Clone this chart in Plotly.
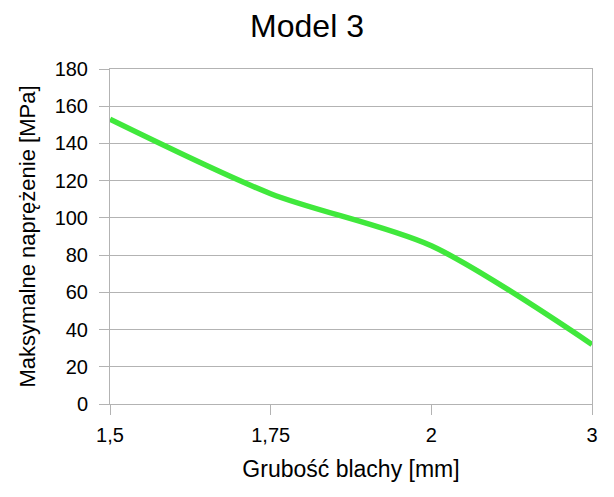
import plotly.graph_objects as go

categories = ["1,5", "1,75", "2", "3"]
stress = [153, 113, 85, 32]
y_ticks = [0, 20, 40, 60, 80, 100, 120, 140, 160, 180]

font_family = "Liberation Sans, Arial, sans-serif"
grid = "#b3b3b3"

# The page body has an 8px default margin, so the figure is sized to fill the rest.
W, H = 606, 489

fig = go.Figure()
fig.add_trace(go.Scatter(
    x=categories, y=stress, mode="lines",
    line=dict(color="#40e83c", width=5.5, shape="spline", smoothing=0.8),
    showlegend=False, hoverinfo="skip",
))

fig.update_layout(
    width=W, height=H,
    margin=dict(l=102, r=22, t=61, b=93),
    paper_bgcolor="white", plot_bgcolor="white",
    font=dict(family=font_family, color="black", size=20),
    title=dict(text="Model 3", x=(307 - 8) / W, xanchor="center", y=1 - 18 / H, yanchor="middle",
               font=dict(size=32, family=font_family, color="black")),
    xaxis=dict(
        type="category", range=[0, 3], showgrid=False,
        showline=True, linecolor=grid, linewidth=1, mirror=True,
        ticks="outside", ticklen=10, tickcolor=grid, tickwidth=1,
        tickfont=dict(size=20), zeroline=False, ticklabelstandoff=3,
        title=dict(text="Grubość blachy [mm]", font=dict(size=23), standoff=15),
    ),
    yaxis=dict(
        range=[0, 180], tickvals=y_ticks, showgrid=True, gridcolor=grid, gridwidth=1,
        showline=True, linecolor=grid, linewidth=1, mirror=True,
        ticks="outside", ticklen=10, tickcolor=grid, tickwidth=1,
        tickfont=dict(size=20), zeroline=False, ticklabelstandoff=7,
        title=dict(text="Maksymalne naprężenie [MPa]", font=dict(size=22), standoff=12),
    ),
)

fig.write_html("out.html")
